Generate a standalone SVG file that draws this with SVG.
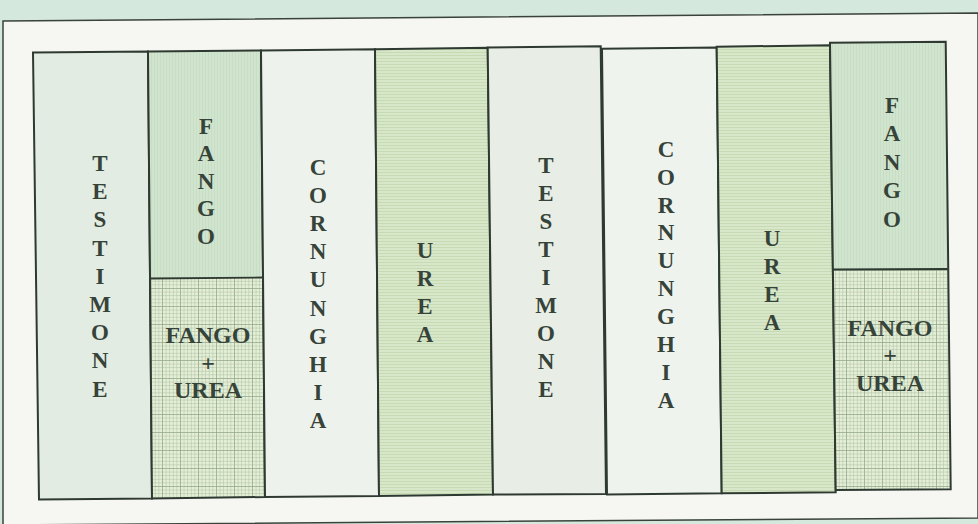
<svg xmlns="http://www.w3.org/2000/svg" width="978" height="524" viewBox="0 0 978 524">
<style>
.col{stroke:#2e3a31;stroke-width:2;stroke-linejoin:miter}
.div{stroke:#2e3a31;stroke-width:1.8;fill:none}
.lbl{font-family:"Liberation Serif","Times New Roman",serif;font-weight:bold;font-size:23px;fill:#364339;text-anchor:middle}
.hl{font-size:24px}
</style>
<defs>
<pattern id="grid" width="3.6" height="3.6" patternUnits="userSpaceOnUse">
<rect width="3.6" height="3.6" fill="#e5efd8"/>
<path d="M0 0.3H3.6M0.3 0V3.6" stroke="#a9bc9f" stroke-width="0.6"/>
</pattern>
<pattern id="grid2" width="18" height="18" patternUnits="userSpaceOnUse">
<path d="M0 0.4H18M0.4 0V18" stroke="#8fa587" stroke-width="0.7" fill="none"/>
</pattern>
<pattern id="hlines" width="8" height="3" patternUnits="userSpaceOnUse">
<rect width="8" height="3" fill="#d8e7c9"/>
<path d="M0 1.5H8" stroke="#c2d8ae" stroke-width="0.8"/>
</pattern>
<pattern id="vlines" width="3" height="8" patternUnits="userSpaceOnUse">
<rect width="3" height="8" fill="#d1e4cd"/>
<path d="M1.5 0V8" stroke="#c4dac1" stroke-width="0.7"/>
</pattern>
</defs>
<rect x="0" y="0" width="978" height="524" fill="#d5e8dd"/>
<polygon points="3,21 978,13 978,518 3,525" fill="#f6f7f3" stroke="#3a423c" stroke-width="1.5"/>
<g id="connectors"></g>
<g id="col1">
<polygon class="col" points="33,52.5 148,51.5 152,498.5 39,499.5" fill="#e3ece3"/>
<text class="lbl"><tspan x="100" y="171">T</tspan><tspan x="100" y="199.2">E</tspan><tspan x="100" y="227.4">S</tspan><tspan x="100" y="255.6">T</tspan><tspan x="100" y="283.8">I</tspan><tspan x="100" y="312">M</tspan><tspan x="100" y="340.2">O</tspan><tspan x="100" y="368.4">N</tspan><tspan x="100" y="396.6">E</tspan></text>
</g>
<g id="col2">
<polygon points="148,51.5 261,50.5 263,277.5 150,278.5" fill="url(#vlines)"/>
<polygon points="150,278.5 263,277.5 265,497 152,498.5" fill="url(#grid)"/>
<polygon points="150,278.5 263,277.5 265,497 152,498.5" fill="url(#grid2)"/>
<polygon class="col" points="148,51.5 261,50.5 265,497 152,498.5" fill="none"/>
<path class="div" d="M150 278.5L263 277.5"/>
<text class="lbl"><tspan x="206" y="133.5">F</tspan><tspan x="206" y="161.1">A</tspan><tspan x="206" y="188.7">N</tspan><tspan x="206" y="216.3">G</tspan><tspan x="206" y="243.9">O</tspan></text>
<text class="lbl hl"><tspan x="208" y="343">FANGO</tspan><tspan x="208" y="371">+</tspan><tspan x="208" y="398">UREA</tspan></text>
</g>
<g id="col3">
<polygon class="col" points="261,50.5 375,49.3 379,496 265,497" fill="#eef2ec"/>
<text class="lbl"><tspan x="318" y="175">C</tspan><tspan x="318" y="203.1">O</tspan><tspan x="318" y="231.2">R</tspan><tspan x="318" y="259.3">N</tspan><tspan x="318" y="287.4">U</tspan><tspan x="318" y="315.5">N</tspan><tspan x="318" y="343.6">G</tspan><tspan x="318" y="371.7">H</tspan><tspan x="318" y="399.8">I</tspan><tspan x="318" y="427.9">A</tspan></text>
</g>
<g id="col4">
<polygon class="col" points="375,49.3 487.7,47.7 493,494.5 379,496" fill="url(#hlines)"/>
<text class="lbl"><tspan x="425" y="258">U</tspan><tspan x="425" y="285.9">R</tspan><tspan x="425" y="313.8">E</tspan><tspan x="425" y="341.7">A</tspan></text>
</g>
<g id="col5">
<polygon class="col" points="487.7,47.5 600.7,46.3 606,494 493,494.5" fill="#e8eee6"/>
<text class="lbl"><tspan x="546" y="173.3">T</tspan><tspan x="546" y="201.3">E</tspan><tspan x="546" y="229.3">S</tspan><tspan x="546" y="257.3">T</tspan><tspan x="546" y="285.3">I</tspan><tspan x="546" y="313.3">M</tspan><tspan x="546" y="341.3">O</tspan><tspan x="546" y="369.3">N</tspan><tspan x="546" y="397.3">E</tspan></text>
</g>
<g id="col6">
<polygon class="col" points="602,48.7 716.7,47.5 721.7,493.3 607,494.5" fill="#eff3ee"/>
<text class="lbl"><tspan x="666" y="156.7">C</tspan><tspan x="666" y="184.6">O</tspan><tspan x="666" y="212.5">R</tspan><tspan x="666" y="240.4">N</tspan><tspan x="666" y="268.3">U</tspan><tspan x="666" y="296.2">N</tspan><tspan x="666" y="324.1">G</tspan><tspan x="666" y="352">H</tspan><tspan x="666" y="379.9">I</tspan><tspan x="666" y="407.8">A</tspan></text>
</g>
<g id="col7">
<polygon class="col" points="716.7,46.7 830,45.3 835.7,492.3 721.7,493.3" fill="url(#hlines)"/>
<text class="lbl"><tspan x="772" y="245.5">U</tspan><tspan x="772" y="273.5">R</tspan><tspan x="772" y="301.5">E</tspan><tspan x="772" y="329.5">A</tspan></text>
</g>
<g id="col8">
<polygon points="830,42.7 945.7,41.7 947.8,269 832.5,269.5" fill="url(#vlines)"/>
<polygon points="832.5,269.5 947.8,269 950.7,489.3 835.7,490" fill="url(#grid)"/>
<polygon points="832.5,269.5 947.8,269 950.7,489.3 835.7,490" fill="url(#grid2)"/>
<polygon class="col" points="830,42.7 945.7,41.7 950.7,489.3 835.7,490" fill="none"/>
<path class="div" d="M832.5 269.5L947.8 269"/>
<text class="lbl"><tspan x="892" y="113">F</tspan><tspan x="892" y="141.4">A</tspan><tspan x="892" y="169.8">N</tspan><tspan x="892" y="198.2">G</tspan><tspan x="892" y="226.6">O</tspan></text>
<text class="lbl hl"><tspan x="890" y="336">FANGO</tspan><tspan x="890" y="363">+</tspan><tspan x="890" y="391">UREA</tspan></text>
</g>
</svg>
